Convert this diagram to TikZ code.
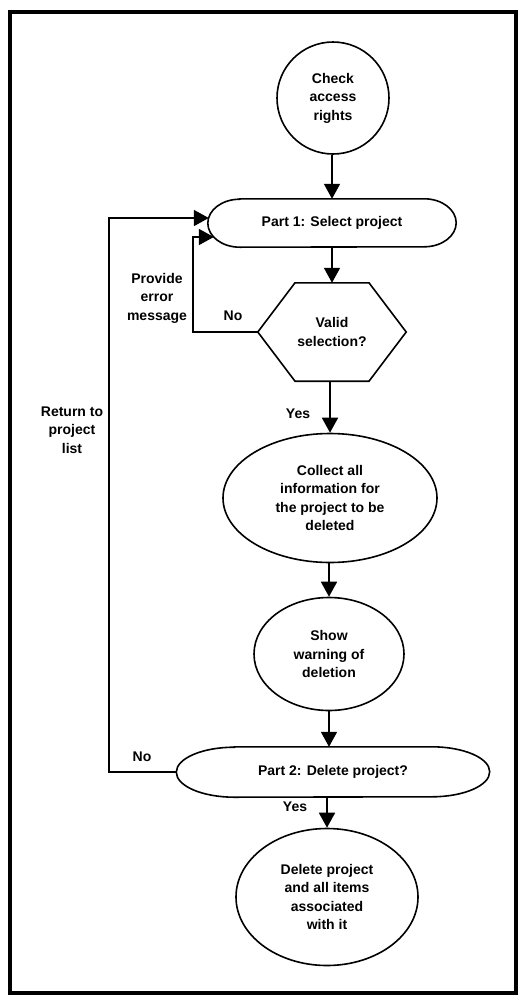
\documentclass[tikz,border=0pt]{standalone}
\usepackage{fontspec}
\setmainfont{Liberation Sans}
\usetikzlibrary{arrows.meta,shapes.geometric,calc}
\tikzset{
  txt/.style={font=\fontsize{14}{18.5}\selectfont\bfseries, align=center, inner sep=0pt},
  shp/.style={draw, line width=1.6pt, txt},
  ghost/.style={draw=none, txt, minimum width=#1},
  conn/.style={line width=1.8pt, -{Triangle[length=15pt,width=16pt]}},
  line/.style={line width=1.8pt},
  lbl/.style={txt}
}
\begin{document}
\begin{tikzpicture}[x=1pt,y=-1pt]
\useasboundingbox (0,0) rectangle (519,996);
\draw[line width=3.5pt] (10,12) rectangle (516,993);

% nodes
\node[shp, circle, minimum size=112pt] (check) at (333,98) {Check\\access\\rights};
\node[ghost=248pt, minimum height=48pt] (p1) at (332,223) {Part 1: Select project};
\draw[line width=1.6pt] ([xshift=32pt]p1.north west) -- ([xshift=-32pt]p1.north east)
  arc[start angle=90, end angle=-90, x radius=32pt, y radius=24pt]
  -- ([xshift=32pt]p1.south west)
  arc[start angle=270, end angle=90, x radius=32pt, y radius=24pt] -- cycle;

\node[ghost=148pt, minimum height=98pt] (valid) at (332,332) {Valid\\selection?};
\draw[line width=1.6pt] ([xshift=-37pt]valid.north) -- ([xshift=37pt]valid.north)
  -- (valid.east) -- ([xshift=37pt]valid.south) -- ([xshift=-37pt]valid.south)
  -- (valid.west) -- cycle;

\node[shp, ellipse, minimum width=214pt, minimum height=129pt] (collect) at (330,498)
  {Collect all\\information for\\the project to be\\deleted};
\node[shp, ellipse, minimum width=150pt, minimum height=113pt] (warn) at (329,654)
  {Show\\warning of\\deletion};

\node[ghost=313pt, minimum height=50pt] (p2) at (333,772) {Part 2: Delete project?};
\draw[line width=1.6pt] ([xshift=58pt]p2.north west) -- ([xshift=-58pt]p2.north east)
  arc[start angle=90, end angle=-90, x radius=58pt, y radius=25pt]
  -- ([xshift=58pt]p2.south west)
  arc[start angle=270, end angle=90, x radius=58pt, y radius=25pt] -- cycle;

\node[shp, ellipse, minimum width=182pt, minimum height=137pt] (del) at (327,897)
  {Delete project\\and all items\\associated\\with it};

% labels
\node[lbl] (errmsg) at (157,298) {Provide\\error\\message};
\node[lbl] (no1) at (233,316) {No};
\node[lbl] (ret) at (72,430) {Return to\\project\\list};
\node[lbl] (yes1) at (298,414) {Yes};
\node[lbl] (no2) at (142,757) {No};
\node[lbl] (yes2) at (295,807) {Yes};

% connectors
\draw[conn] (check.south -| p1.north) -- (p1.north);
\draw[conn] (p1.south) -- (valid.north);
\draw[conn] ([xshift=-2pt]valid.south) -- ([xshift=-2pt]valid.south |- collect.north);
\draw[conn] (collect.south -| warn.south) -- (warn.north);
\draw[conn] (warn.south) -- (warn.south |- p2.north);
\draw[conn] (del.north |- p2.south) -- (del.north);
\draw[conn] (valid.west) -- ++(-65,0) |- ([shift={(6pt,-14pt)}]p1.west);
\draw[conn] (p2.west) -- ++(-67,0) |- ([shift={(1pt,5pt)}]p1.west);
\end{tikzpicture}
\end{document}
